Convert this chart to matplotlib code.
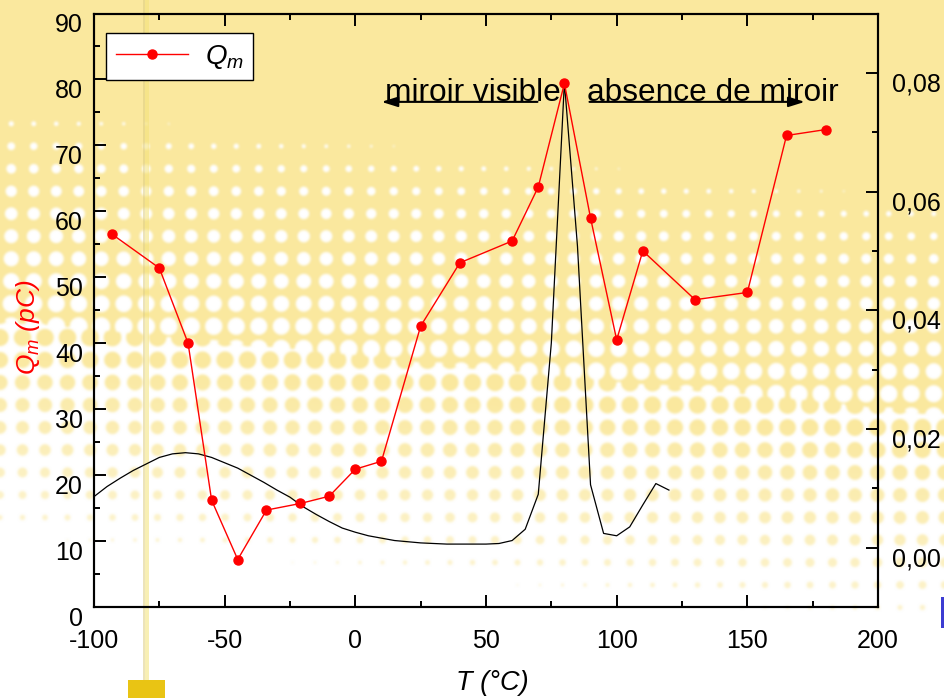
import numpy as np
import matplotlib
matplotlib.use("Agg")
import matplotlib.pyplot as plt
from matplotlib.ticker import MultipleLocator, FuncFormatter
from matplotlib.transforms import ScaledTranslation

plt.rcParams['font.family'] = ['Liberation Sans', 'DejaVu Sans']
plt.rcParams['mathtext.fontset'] = 'custom'
plt.rcParams['mathtext.rm'] = 'Liberation Sans'
plt.rcParams['mathtext.it'] = 'Liberation Sans:italic'
plt.rcParams['axes.unicode_minus'] = False

# ---- data ----
T_q = [-93, -75, -64, -55, -45, -34, -21, -10, 0, 10, 25, 40, 60, 70, 80,
       90, 100, 110, 130, 150, 165, 180]
Q_m = [56.5, 51.4, 40.0, 16.2, 7.2, 14.7, 15.7, 16.8, 20.9, 22.1, 42.6, 52.2,
       55.5, 63.7, 79.4, 59.0, 40.5, 54.0, 46.6, 47.7, 71.5, 72.4]

T_b = [-100, -95, -90, -85, -80, -75, -70, -65, -60, -55, -50, -45, -40, -35,
       -30, -25, -20, -15, -10, -5, 0, 5, 10, 15, 20, 25, 30, 35, 40, 45, 50,
       55, 60, 65, 70, 75, 80, 85, 90, 95, 100, 105, 110, 115, 120]
S_b = [0.0086, 0.0103, 0.0117, 0.0130, 0.0141, 0.0152, 0.0158, 0.0160, 0.0158,
       0.0152, 0.0143, 0.0134, 0.0122, 0.0110, 0.0097, 0.0085, 0.0069, 0.0056,
       0.0044, 0.0033, 0.0026, 0.0020, 0.0016, 0.0012, 0.0010, 0.0008, 0.0007,
       0.0006, 0.0006, 0.0006, 0.0006, 0.0007, 0.0012, 0.0031, 0.0090, 0.0345,
       0.0784, 0.0508, 0.0106, 0.0024, 0.0020, 0.0035, 0.0072, 0.0108, 0.0097]

x_ticks = [-100, -50, 0, 50, 100, 150, 200]
y_ticks = list(range(0, 91, 10))
y2_ticks = [0.0, 0.02, 0.04, 0.06, 0.08]

W, H = 944, 698
fig = plt.figure(figsize=(W / 100, H / 100), dpi=100)

# ---- slide background: yellow with a halftone fade to white ----
yy, xx = np.mgrid[0:H, 0:W].astype(float) + 0.5
yellow = np.array([250, 232, 158]) / 255.0
sp = 22.5


def level(x, y):
    return np.clip((y - (105 + 0.10 * x)) / 430.0, 0, 1)


t_pix = level(xx, yy)
cx = (np.floor(xx / sp) + 0.5) * sp
cy = (np.floor(yy / sp) + 0.5) * sp
kx = np.round(xx / sp) * sp
ky = np.round(yy / sp) * sp
t_c = level(cx, cy)
t_k = level(kx, ky)
d_c = np.hypot((xx - cx) / sp, (yy - cy) / sp)
d_k = np.hypot((xx - kx) / sp, (yy - ky) / sp)
r_w = np.sqrt(np.clip(t_c, 0, 0.5) / np.pi)
r_y = np.sqrt(np.clip(1 - t_k, 0, 0.5) / np.pi)
cov_w = np.clip((r_w - d_c) * sp + 0.5, 0, 1) * np.clip(r_w * sp * 1.5, 0, 1)
cov_y = np.clip((r_y - d_k) * sp + 0.5, 0, 1) * np.clip(r_y * sp * 1.5, 0, 1)
white = np.where(t_pix < 0.5, cov_w, 1 - cov_y)
# yellow dots pale out toward the bottom
pale = np.clip((t_pix - 0.55) / 0.45, 0, 1) * 0.55
dot_col = yellow[None, None, :] * (1 - pale[..., None]) + pale[..., None]
img = dot_col * (1 - white[..., None]) + white[..., None]

# soften (edge-padded box blur)
for _ in range(2):
    p = np.pad(img, ((1, 1), (0, 0), (0, 0)), mode='edge')
    img = (p[:-2] + p[1:-1] + p[2:]) / 3
    p = np.pad(img, ((0, 0), (1, 1), (0, 0)), mode='edge')
    img = (p[:, :-2] + p[:, 1:-1] + p[:, 2:]) / 3

# vertical golden rule with its square
col = xx[0]
band_dark = (col >= 143.5) & (col < 145.2)
band_light = (col >= 145.2) & (col < 148.8)
rows = slice(0, 680)
img[rows, band_dark] = img[rows, band_dark] * 0.45 + np.array([222, 205, 130]) / 255 * 0.55
img[rows, band_light] = img[rows, band_light] * 0.45 + np.array([244, 226, 120]) / 255 * 0.55
img[680:698, 128:165] = np.array([233, 196, 20]) / 255
img[597:628, 941:944] = np.array([60, 60, 210]) / 255

bg = fig.add_axes([0, 0, 1, 1], zorder=-10)
bg.imshow(img, extent=(0, W, H, 0), aspect='auto', interpolation='bilinear')
bg.set_xlim(0, W)
bg.set_ylim(H, 0)
bg.axis('off')

# ---- main axes ----
L, R, B, T = 94, 878, 607, 13.5
ax = fig.add_axes([L / W, 1 - B / H, (R - L) / W, (B - T) / H])
ax2 = ax.twinx()
ax.set_zorder(ax2.get_zorder() + 1)
ax.patch.set_visible(False)
ax2.patch.set_visible(False)

ax2.plot(T_b, S_b, color='black', lw=0.9)
ax.plot(T_q, Q_m, color='#ff0000', lw=1.0, marker='o', ms=6.5,
        mec='#ff0000', mfc='#ff0000', label=r'$Q_m$')

ax.set_xlim(-100, 200)
ax.set_ylim(0, 90)
ax2.set_ylim(-0.01, 0.09)

ax.set_xticks(x_ticks)
ax.set_yticks(y_ticks)
ax.xaxis.set_minor_locator(MultipleLocator(25))
ax.yaxis.set_minor_locator(MultipleLocator(5))
ax2.set_yticks(y2_ticks)
ax2.yaxis.set_minor_locator(MultipleLocator(0.01))
ax2.yaxis.set_major_formatter(
    FuncFormatter(lambda val, pos: f"{0.0 if abs(val) < 1e-9 else val:.2f}".replace('.', ',')))

for a in (ax, ax2):
    for s in a.spines.values():
        s.set_linewidth(1.5)

ax.tick_params(axis='both', which='both', direction='in', width=1.4,
               labelsize=18, colors='black')
ax.tick_params(which='major', length=8.6)
ax.tick_params(which='minor', length=4.3)
ax.tick_params(axis='x', which='both', top=True, pad=16)
ax.tick_params(axis='y', which='both', right=False, pad=8)
ax2.tick_params(axis='y', which='both', direction='in', width=1.4,
                labelsize=18, pad=10)
ax2.tick_params(which='major', length=8.6)
ax2.tick_params(which='minor', length=4.3)

shift = ScaledTranslation(0, -9 / 100, fig.dpi_scale_trans)
for lab in ax.get_yticklabels() + ax2.get_yticklabels():
    lab.set_transform(lab.get_transform() + shift)

# axis titles
fig.text(28 / W, 1 - 327 / H, r'$Q_m$ (pC)', color='#ff0000', fontsize=19,
         fontstyle='italic', rotation=90, ha='center', va='center')
fig.text(492 / W, 1 - 690 / H, 'T (°C)', color='black', fontsize=19.5,
         fontstyle='italic', ha='center', va='baseline')

# legend
leg = ax.legend(loc='upper left', bbox_to_anchor=(106 / W, 1 - 33 / H),
                bbox_transform=fig.transFigure, borderaxespad=0, fontsize=20,
                handlelength=2.6, handletextpad=0.6, borderpad=0.35,
                fancybox=False, framealpha=1, edgecolor='black')
leg.get_frame().set_linewidth(1.0)

# regime annotations
ax.text(11.5, 76.8, 'miroir visible', fontsize=22.8, ha='left', va='baseline')
ax.text(88.8, 76.8, 'absence de miroir', fontsize=22.8, ha='left', va='baseline')
arrow = dict(arrowstyle='-|>,head_length=0.8,head_width=0.25', color='black',
             lw=1.5, mutation_scale=12, shrinkA=0, shrinkB=0)
ax.annotate('', xy=(10, 76.6), xytext=(69.7, 76.6), arrowprops=arrow)
ax.annotate('', xy=(172, 76.6), xytext=(89.6, 76.6), arrowprops=arrow)

fig.savefig('out.png', dpi=100)
